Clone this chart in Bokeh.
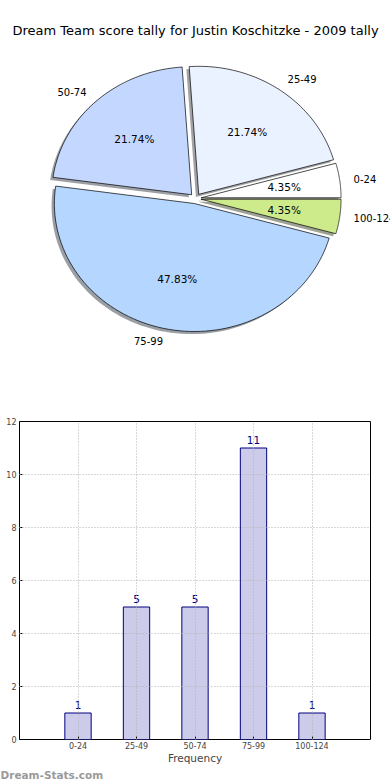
import numpy as np
from bokeh.plotting import figure
from bokeh.models import Range1d, FixedTicker, ColumnDataSource, Title
from bokeh.embed import file_html
from bokeh.resources import INLINE
from bokeh.core.properties import value

# ---- data ----
title_text = "Dream Team score tally for Justin Koschitzke - 2009 tally"
categories = ["0-24", "25-49", "50-74", "75-99", "100-124"]
counts = [1, 5, 5, 11, 1]
pie_colors = ["#ffffff", "#eaf2ff", "#c4d8ff", "#b4d6ff", "#cdeb8b"]
y_ticks = [0, 2, 4, 6, 8, 10, 12]
x_label = "Frequency"
watermark = "Dream-Stats.com"

FONT = "DejaVu Sans"
EXPLODE = 0.04

# ---- pie (unit-circle coordinates, slightly elliptical on screen) ----
pie = figure(width=390, height=408,
             x_range=Range1d(-1.3929, 1.3929), y_range=Range1d(-1.6406, 1.5469),
             output_backend="svg", toolbar_location=None, min_border=0,
             x_axis_location=None, y_axis_location=None)
pie.grid.visible = False
pie.outline_line_color = None

vals = np.array(counts, dtype=float)
frac = vals / vals.sum()
edges = np.concatenate([[0.0], np.cumsum(frac)]) * 2 * np.pi

shadow_xs, shadow_ys, shadow_cols = [], [], []
wedge_xs, wedge_ys = [], []
lab_x, lab_y, lab_align = [], [], []
pct_x, pct_y, pct_txt = [], [], []
for i in range(len(counts)):
    t0, t1 = edges[i], edges[i + 1]
    mid = 0.5 * (t0 + t1)
    cx, cy = EXPLODE * np.cos(mid), EXPLODE * np.sin(mid)
    th = np.linspace(t0, t1, 80)
    px = np.concatenate([[cx], cx + np.cos(th)])
    py = np.concatenate([[cy], cy + np.sin(th)])
    wedge_xs.append(list(px)); wedge_ys.append(list(py))
    shadow_xs.append(list(px - 0.02)); shadow_ys.append(list(py - 0.02))
    h = pie_colors[i].lstrip("#")
    rgb = [int(h[k:k + 2], 16) for k in (0, 2, 4)]
    shadow_cols.append("#%02x%02x%02x" % tuple(int(0.3 * c) for c in rgb))
    xt, yt = cx + 1.1 * np.cos(mid), cy + 1.1 * np.sin(mid)
    lab_x.append(xt); lab_y.append(yt); lab_align.append("left" if xt > 0 else "right")
    pct_x.append(cx + 0.6 * np.cos(mid)); pct_y.append(cy + 0.6 * np.sin(mid))
    pct_txt.append("%.2f%%" % (100 * frac[i]))

pie.patches(xs=shadow_xs, ys=shadow_ys, fill_color=shadow_cols, fill_alpha=0.5, line_color=None)
pie.patches(xs=wedge_xs, ys=wedge_ys, fill_color=pie_colors, line_color="black", line_width=0.7)

lab_src = ColumnDataSource(dict(x=lab_x, y=lab_y, t=categories, a=lab_align))
pie.text(x="x", y="y", text="t", text_align="a", source=lab_src, text_baseline="middle",
         text_font=value(FONT), text_font_size="10px", text_color="black")
pie.text(x=pct_x, y=pct_y, text=pct_txt, text_align="center", text_baseline="middle",
         text_font=value(FONT), text_font_size="10.5px", text_color="black")
pie.text(x=[0.0], y=[(198 - 30) / 128], text=[title_text], text_align="center",
         text_baseline="middle", text_font=value(FONT), text_font_size="13px", text_color="black")

# ---- bar ----
bar = figure(width=390, height=372, x_range=Range1d(-1, 5), y_range=Range1d(0, 12),
             output_backend="svg", toolbar_location=None,
             min_border_left=19, min_border_right=20, min_border_top=13, min_border_bottom=40)
xs = list(range(len(categories)))
bar.vbar(x=xs, top=counts, width=0.45, fill_color="#ccccea", line_color="#000080", line_width=1)
bar.text(x=xs, y=counts, text=[str(c) for c in counts], text_align="center",
         text_baseline="alphabetic", y_offset=-8, text_color="#000080",
         text_font=value(FONT), text_font_size="10.5px")

bar.xaxis.ticker = FixedTicker(ticks=xs)
bar.xaxis.major_label_overrides = {i: c for i, c in enumerate(categories)}
bar.yaxis.ticker = FixedTicker(ticks=y_ticks)
for ax in (bar.xaxis, bar.yaxis):
    ax.axis_line_color = None
    ax.major_tick_in = 3
    ax.major_tick_out = 0
    ax.minor_tick_line_color = None
    ax.major_label_text_font = FONT
    ax.major_label_text_font_size = "8px"
    ax.major_label_standoff = 3
bar.xaxis.major_label_standoff = 2
bar.xaxis.axis_label = x_label
bar.xaxis.axis_label_text_font = FONT
bar.xaxis.axis_label_text_font_size = "10.5px"
bar.xaxis.axis_label_text_font_style = "normal"
bar.xaxis.axis_label_standoff = 0
bar.grid.grid_line_color = "#b0b0b0"
bar.grid.grid_line_dash = "1 2"
bar.grid.grid_line_width = 1
bar.grid.level = "overlay"
bar.xgrid.ticker = FixedTicker(ticks=xs)
bar.ygrid.ticker = FixedTicker(ticks=y_ticks)
bar.outline_line_color = "black"
bar.outline_line_width = 1

bar.add_layout(Title(text=watermark, align="left", offset=-19, standoff=0,
                     text_color="#9a9a9a", text_font=FONT, text_font_size="10.5px",
                     text_font_style="bold"), "below")

open("out.html", "w").write(file_html([pie, bar], INLINE))
